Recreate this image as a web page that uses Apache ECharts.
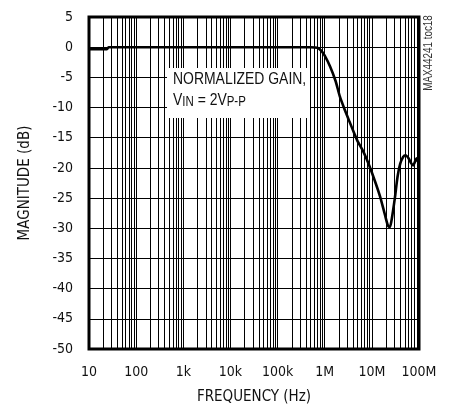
<!DOCTYPE html>
<html><head><meta charset="utf-8">
<script src="https://cdn.jsdelivr.net/npm/echarts@6/dist/echarts.min.js"></script>
<style>html,body{margin:0;padding:0;background:#fff}#c{width:451px;height:407px}</style>
</head><body><div id="c"></div>
<script>
// Frequency (Hz) and normalized gain (dB)
const freqHz = [10, 24, 26, 100, 1e3, 1e4, 1e5, 5e5, 7e5, 8.5e5, 1e6, 1.3e6, 1.7e6, 2.1e6, 2.7e6, 3.3e6, 4.2e6, 5e6, 6.6e6, 9e6, 12e6, 15e6, 19e6, 22e6, 24e6, 26e6, 28e6, 31e6, 35e6, 40e6, 46e6, 52e6, 60e6, 68e6, 75e6, 82e6, 89e6, 95e6, 100e6];
const gainDb = [-0.35, -0.35, 0, 0, 0, 0, 0, 0, -0.1, -0.6, -1.4, -3.2, -5.6, -8.2, -10.5, -12.2, -14.2, -15.6, -17.3, -19.8, -22.5, -24.8, -27.8, -29.6, -29.8, -28.8, -27.2, -24.8, -21.5, -19.3, -18.2, -17.9, -18.4, -19.2, -19.6, -19.0, -18.4, -18.9, -19.1];
const xTickValues = [10, 100, 1e3, 1e4, 1e5, 1e6, 1e7, 1e8];
const xTickLabels = ['10', '100', '1k', '10k', '100k', '1M', '10M', '100M'];
const yMin = -50, yMax = 5, yStep = 5;

const minorLines = [];
for (let k = 1; k < 8; k++) for (let m = 2; m <= 9; m++) minorLines.push({ xAxis: m * Math.pow(10, k) });

const FONT = '"DejaVu Sans Condensed", "Liberation Sans", sans-serif';
const NARROW = '"Liberation Sans", Arial, sans-serif';
const chart = echarts.init(document.getElementById('c'), null, { renderer: 'canvas' });
chart.setOption({
  animation: false,
  backgroundColor: '#fff',
  grid: { left: 89, right: 32, top: 17, bottom: 58, containLabel: false, outerBoundsMode: 'none',
          show: true, borderColor: '#000', borderWidth: 3, backgroundColor: 'transparent', z: 5 },
  xAxis: {
    type: 'log', logBase: 10, min: 10, max: 1e8,
    name: 'FREQUENCY (Hz)', nameLocation: 'middle', nameGap: 41,
    nameTextStyle: { fontFamily: FONT, fontSize: 15, color: '#111' },
    axisLine: { show: false }, axisTick: { show: false },
    axisLabel: { fontFamily: FONT, fontSize: 14, color: '#111', margin: 16,
      formatter: v => xTickLabels[xTickValues.indexOf(Math.pow(10, Math.round(Math.log10(v))))] },
    splitLine: { show: true, lineStyle: { color: '#000', width: 1 } }
  },
  yAxis: {
    type: 'value', min: yMin, max: yMax, interval: yStep,
    name: 'MAGNITUDE (dB)', nameLocation: 'middle', nameGap: 56, nameRotate: 90,
    nameTextStyle: { fontFamily: FONT, fontSize: 15, color: '#111' },
    axisLine: { show: false }, axisTick: { show: false },
    axisLabel: { fontFamily: FONT, fontSize: 14, color: '#111', margin: 16 },
    splitLine: { show: true, lineStyle: { color: '#000', width: 1 } }
  },
  series: [{
    type: 'line',
    data: freqHz.map((f, i) => [f, gainDb[i]]),
    showSymbol: false, smooth: 0.25,
    lineStyle: { color: '#000', width: 2.6 },
    z: 4,
    markLine: {
      silent: true, symbol: ['none', 'none'], label: { show: false },
      lineStyle: { color: '#000', width: 1, type: 'solid' },
      data: minorLines, z: 1
    }
  }],
  graphic: [
    { type: 'rect', shape: { x: 167, y: 68, width: 143, height: 50 }, style: { fill: '#fff' }, z: 100 },
    { type: 'text', x: 173, y: 71, scaleX: 0.82, z: 101, style: { text: 'NORMALIZED GAIN,', fontFamily: NARROW, fontSize: 17, fill: '#111' } },
    { type: 'text', x: 173, y: 92, scaleX: 0.82, z: 101, style: {
      text: '{a|V}{s|IN}{a| = 2V}{s|P-P}', fill: '#111',
      rich: { a: { fontFamily: NARROW, fontSize: 17, verticalAlign: 'bottom', fill: '#111' },
              s: { fontFamily: NARROW, fontSize: 14, verticalAlign: 'bottom', fill: '#111' } } } },
    { type: 'text', x: 429, y: 53, rotation: Math.PI / 2, scaleX: 0.82, z: 101, style: {
      text: 'MAX44241 toc18', fontFamily: NARROW, fontSize: 12, fill: '#333', align: 'center', verticalAlign: 'middle' } }
  ]
});
</script></body></html>
